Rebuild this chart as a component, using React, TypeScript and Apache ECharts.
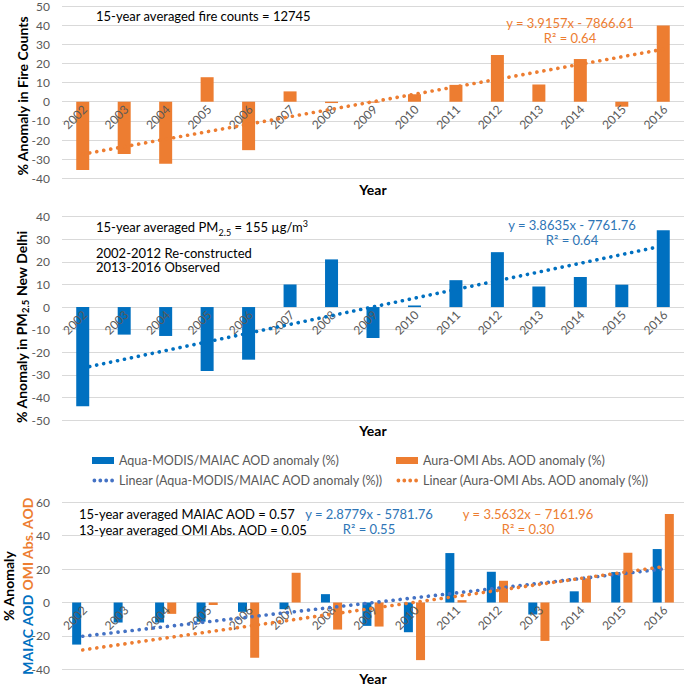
import React, { useEffect, useRef } from "react";
import * as echarts from "echarts";

const years = ["2002", "2003", "2004", "2005", "2006", "2007", "2008", "2009", "2010", "2011", "2012", "2013", "2014", "2015", "2016"];
const fireAnomaly = [-35.6, -27.3, -32.4, 12.8, -25.3, 5.4, -0.7, -0.5, 3.9, 8.8, 24.4, 9.0, 22.3, -2.6, 39.8];
const fireTrend = [-27.4, 27.4];
const pmAnomaly = [-43.9, -12.2, -12.8, -28.3, -23.3, 10.0, 21.1, -13.7, 0.7, 11.9, 24.3, 9.1, 13.3, 9.9, 34.0];
const pmTrend = [-27.0, 27.1];
const maiacAnomaly = [-25.2, -12, -12, -11.5, -5.6, -4.0, 5.0, -14, -17.8, 29.6, 18.4, -7.2, 6.7, 18.2, 32.0];
const omiAnomaly = [null, null, -6.8, -1.5, -33.1, 17.8, -16.2, -14.4, -34.5, 1.4, 13.0, -23.0, 14.5, 29.8, 53.0];
const maiacTrend = [-20.2, 20.1];
const omiTrend = [-28.4, 21.5];

const ORANGE = "#ED7D31";
const BLUE = "#0070C0";
const TREND_BLUE = "#4472C4";
const EQ_BLUE = "#2E75B6";
const GRID = "#D9D9D9";
const LABEL = "#595959";
const FONT = "Lato";

const NAME_MAIAC = "Aqua-MODIS/MAIAC AOD anomaly (%)";
const NAME_OMI = "Aura-OMI Abs. AOD anomaly (%)";
const NAME_MAIAC_LIN = "Linear (Aqua-MODIS/MAIAC AOD anomaly (%))";
const NAME_OMI_LIN = "Linear (Aura-OMI Abs. AOD anomaly (%))";

// dotted legend icon: four round dots inside a 22x7 box
const DOTS_ICON =
  "path://M0,0M22,7" +
  "M0.5,3.5a1.9,1.9 0 1,0 3.8,0a1.9,1.9 0 1,0 -3.8,0z" +
  "M6.4,3.5a1.9,1.9 0 1,0 3.8,0a1.9,1.9 0 1,0 -3.8,0z" +
  "M12.3,3.5a1.9,1.9 0 1,0 3.8,0a1.9,1.9 0 1,0 -3.8,0z" +
  "M18.2,3.5a1.9,1.9 0 1,0 3.8,0a1.9,1.9 0 1,0 -3.8,0z";

function xAxisFor(gridIndex: number) {
  return {
    type: "category",
    gridIndex,
    data: years,
    axisLine: { show: false, onZero: true },
    axisTick: { show: false },
    axisLabel: { show: false },
    splitLine: { show: false },
  };
}

function yAxisFor(gridIndex: number, min: number, max: number, interval: number) {
  return {
    type: "value",
    gridIndex,
    min,
    max,
    interval,
    axisLine: { show: false },
    axisTick: { show: false },
    axisLabel: { color: LABEL, fontFamily: FONT, fontSize: 12, margin: 12 },
    splitLine: { lineStyle: { color: GRID, width: 1 } },
  };
}

// category labels sitting just under the zero line, drawn above the bars
function yearLabels(xi: number) {
  return {
    name: "year labels " + xi,
    type: "scatter",
    xAxisIndex: xi,
    yAxisIndex: xi,
    data: years.map((y) => [y, 0]),
    symbolSize: 1,
    silent: true,
    z: 4,
    itemStyle: { color: "rgba(255,255,255,0)" },
    label: {
      show: true,
      position: [2.5, 6],
      formatter: (p: any) => p.value[0],
      align: "right",
      verticalAlign: "middle",
      rotate: 45,
      color: LABEL,
      opacity: 1,
      textBorderWidth: 0,
      fontFamily: FONT,
      fontSize: 12,
    },
    emphasis: { disabled: true },
  };
}

function trendLine(name: string, xi: number, yi: number, ends: number[], color: string, z = 5) {
  return {
    name,
    type: "line",
    xAxisIndex: xi,
    yAxisIndex: yi,
    data: [
      [years[0], ends[0]],
      [years[years.length - 1], ends[1]],
    ],
    symbol: "none",
    z,
    lineStyle: { color, width: 3.6, type: [0.1, 7], cap: "round" },
    itemStyle: { color },
  };
}

function txt(text: string, x: number, y: number, opts: any = {}) {
  return {
    type: "text",
    x,
    y,
    rotation: opts.rotation || 0,
    z: 100,
    style: {
      text,
      fill: opts.fill || "#000",
      fontSize: opts.fontSize || 13,
      fontWeight: opts.fontWeight || "normal",
      fontFamily: FONT,
      align: opts.align || "left",
      textAlign: opts.align || "left",
      verticalAlign: "middle",
      textVerticalAlign: "middle",
      rich: opts.rich,
    },
  };
}

export default function App() {
  const ref = useRef<HTMLDivElement>(null);
  useEffect(() => {
    if (!ref.current) return;
    const chart = echarts.init(ref.current, undefined, { renderer: "svg" });
    const titleRich = {
      n: { fontSize: 14, fontWeight: "bold", fontFamily: FONT, fill: "#000", lineHeight: 16, verticalAlign: "top" },
      s: { fontSize: 9.5, fontWeight: "bold", fontFamily: FONT, fill: "#000", lineHeight: 11, verticalAlign: "bottom", padding: [7, 0, 0, 0] },
    };
    const noteRich = {
      n: { fontSize: 13, fontFamily: FONT, fill: "#000", lineHeight: 15, verticalAlign: "bottom" },
      s: { fontSize: 9, fontFamily: FONT, fill: "#000", lineHeight: 10, verticalAlign: "bottom", padding: [0, 0, -3, 0] },
      p: { fontSize: 9, fontFamily: FONT, fill: "#000", lineHeight: 10, verticalAlign: "top" },
    };
    const aodRich = {
      b: { fontSize: 14, fontWeight: "bold", fontFamily: FONT, fill: BLUE },
      o: { fontSize: 14, fontWeight: "bold", fontFamily: FONT, fill: ORANGE },
    };
    const legendText = { color: LABEL, fontFamily: FONT, fontSize: 12.5 };
    const option: any = {
      animation: false,
      textStyle: { fontFamily: FONT },
      grid: [
        { left: 62, right: 1, top: 5, height: 173.3 },
        { left: 62, right: 1, top: 216.7, height: 203.3 },
        { left: 62, right: 1, top: 502.3, height: 167 },
      ],
      xAxis: [xAxisFor(0), xAxisFor(1), xAxisFor(2)],
      yAxis: [yAxisFor(0, -40, 50, 10), yAxisFor(1, -50, 40, 10), yAxisFor(2, -40, 60, 20)],
      legend: [
        {
          orient: "vertical",
          left: 87,
          top: 449,
          itemWidth: 22,
          itemHeight: 7,
          itemGap: 7,
          selectedMode: false,
          textStyle: legendText,
          data: [
            { name: NAME_MAIAC, icon: "rect" },
            { name: NAME_MAIAC_LIN, icon: DOTS_ICON },
          ],
        },
        {
          orient: "vertical",
          left: 391,
          top: 449,
          itemWidth: 22,
          itemHeight: 7,
          itemGap: 7,
          selectedMode: false,
          textStyle: legendText,
          data: [
            { name: NAME_OMI, icon: "rect" },
            { name: NAME_OMI_LIN, icon: DOTS_ICON },
          ],
        },
      ],
      series: [
        {
          name: "Fire counts anomaly (%)",
          type: "bar",
          xAxisIndex: 0,
          yAxisIndex: 0,
          data: fireAnomaly,
          barWidth: 13,
          itemStyle: { color: ORANGE },
        },
        yearLabels(0),
        trendLine("Linear (Fire counts anomaly (%))", 0, 0, fireTrend, ORANGE),
        {
          name: "PM2.5 anomaly (%)",
          type: "bar",
          xAxisIndex: 1,
          yAxisIndex: 1,
          data: pmAnomaly,
          barWidth: 13,
          itemStyle: { color: BLUE },
        },
        yearLabels(1),
        trendLine("Linear (PM2.5 anomaly (%))", 1, 1, pmTrend, BLUE),
        {
          name: NAME_MAIAC,
          type: "bar",
          xAxisIndex: 2,
          yAxisIndex: 2,
          data: maiacAnomaly,
          barWidth: 9,
          barGap: "35%",
          itemStyle: { color: BLUE },
        },
        {
          name: NAME_OMI,
          type: "bar",
          xAxisIndex: 2,
          yAxisIndex: 2,
          data: omiAnomaly,
          barWidth: 9,
          barGap: "35%",
          itemStyle: { color: ORANGE },
        },
        yearLabels(2),
        trendLine(NAME_MAIAC_LIN, 2, 2, maiacTrend, TREND_BLUE, 5),
        trendLine(NAME_OMI_LIN, 2, 2, omiTrend, ORANGE, 6),
      ],
      graphic: [
        txt("% Anomaly in Fire Counts", 22, 96, { rotation: Math.PI / 2, align: "center", fontSize: 14, fontWeight: "bold" }),
        txt("15-year averaged fire counts = 12745", 96, 16),
        txt("y = 3.9157x - 7866.61", 570, 23, { align: "center", fill: ORANGE }),
        txt("R² = 0.64", 570, 37.5, { align: "center", fill: ORANGE }),
        txt("Year", 373, 189, { align: "center", fontSize: 14, fontWeight: "bold" }),

        txt("{n|% Anomaly in PM}{s|2.5}{n| New Delhi}", 22, 327, { rotation: Math.PI / 2, align: "center", rich: titleRich }),
        txt("{n|15-year averaged PM}{s|2.5}{n| = 155 µg/m}{p|3}", 96, 226, { rich: noteRich }),
        txt("2002-2012 Re-constructed", 96, 252.5),
        txt("2013-2016 Observed", 96, 267),
        txt("y = 3.8635x - 7761.76", 572, 225, { align: "center", fill: EQ_BLUE }),
        txt("R² = 0.64", 572, 239.5, { align: "center", fill: EQ_BLUE }),
        txt("Year", 373, 430, { align: "center", fontSize: 14, fontWeight: "bold" }),

        txt("% Anomaly", 8, 586, { rotation: Math.PI / 2, align: "center", fontSize: 14, fontWeight: "bold" }),
        txt("{b|MAIAC AOD} {o|OMI Abs. AOD}", 27, 586, { rotation: Math.PI / 2, align: "center", rich: aodRich }),
        txt("15-year averaged MAIAC AOD = 0.57", 79, 514),
        txt("13-year averaged OMI Abs. AOD = 0.05", 79, 530),
        txt("y = 2.8779x - 5781.76", 369, 513.5, { align: "center", fill: EQ_BLUE }),
        txt("R² = 0.55", 369, 529, { align: "center", fill: EQ_BLUE }),
        txt("y = 3.5632x – 7161.96", 528, 513.5, { align: "center", fill: ORANGE }),
        txt("R² = 0.30", 528, 529, { align: "center", fill: ORANGE }),
        txt("Year", 373, 678, { align: "center", fontSize: 14, fontWeight: "bold" }),
      ],
    };
    chart.setOption(option);
    return () => chart.dispose();
  }, []);
  return (
    <div
      ref={ref}
      style={{ position: "absolute", left: 0, top: 0, width: 685, height: 686, background: "#fff" }}
    />
  );
}
